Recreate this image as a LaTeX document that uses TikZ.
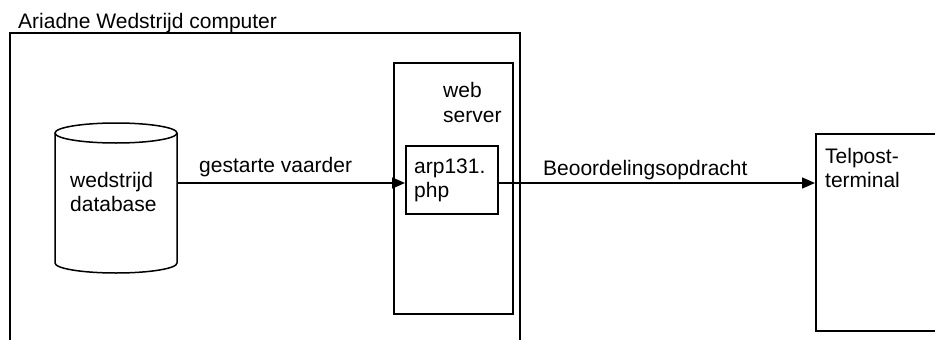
\documentclass[tikz,border=0pt]{standalone}
\usepackage{fontspec}
\setmainfont{Liberation Sans}
\usetikzlibrary{arrows.meta}
\begin{document}
\begin{tikzpicture}[x=1pt,y=-1pt,
  box/.style={draw,line width=1.5pt,anchor=north west,inner sep=0pt,rectangle},
  lbl/.style={anchor=base west,inner sep=0pt,font=\fontsize{21}{24}\selectfont},
  conn/.style={line width=1.5pt,-{Triangle[length=13pt,width=11pt]}}]
\clip (0,0) rectangle (935,340);
% outer computer box
\node[box,line width=1.8pt,minimum width=510pt,minimum height=340pt] (outer) at (9,32) {};
\node[lbl] (outerlbl) at (18,28) {Ariadne Wedstrijd computer};
% database cylinder
\node[inner sep=0pt,minimum width=122pt,minimum height=120pt] (db) at (116,183) {};
\draw[line width=1.5pt] (116,133) ellipse [x radius=61pt,y radius=10pt];
\draw[line width=1.5pt] (55,133) -- (55,263) arc[start angle=180,end angle=360,x radius=61pt,y radius=10pt] -- (177,133);
\node[lbl] (dblbl1) at (70,187) {wedstrijd};
\node[lbl] (dblbl2) at (70,211) {database};
% web server
\node[box,minimum width=119pt,minimum height=251pt] (web) at (393,62) {};
\node[lbl] (weblbl1) at (443,97) {web};
\node[lbl] (weblbl2) at (443,122) {server};
% arp131.php
\node[box,minimum width=92pt,minimum height=68pt] (arp) at (405,145) {};
\node[lbl] (arplbl1) at (414,173) {arp131.};
\node[lbl] (arplbl2) at (414,197) {php};
% Telpost terminal
\node[box,minimum width=160pt,minimum height=197pt] (tel) at (815,133) {};
\node[lbl] (tellbl1) at (825,163) {Telpost-};
\node[lbl] (tellbl2) at (825,187) {terminal};
% connectors
\draw[conn] (db.east) -- (db.east -| arp.west);
\node[lbl] (c1lbl) at (199,172) {gestarte vaarder};
\draw[conn] ([xshift=-2pt]arp.east |- db.east) -- (db.east -| tel.west);
\node[lbl] (c2lbl) at (543,175) {Beoordelingsopdracht};
\end{tikzpicture}
\end{document}
